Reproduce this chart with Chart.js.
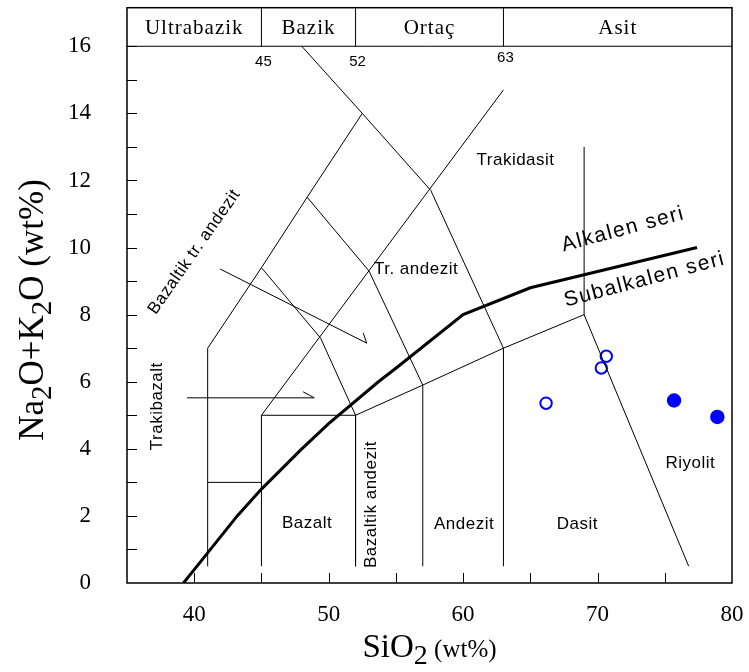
<!DOCTYPE html>
<html>
<head>
<meta charset="utf-8">
<script src="https://cdn.jsdelivr.net/npm/chart.js@4.4.1/dist/chart.umd.min.js"></script>
<style>
  body { margin: 0; background: #fff; }
</style>
</head>
<body>
<canvas id="tas" width="749" height="672"></canvas>
<script>
// Total alkali vs silica (TAS) diagram
const xTicks = [40, 50, 60, 70, 80];
const xMinor = [40, 45, 50, 55, 60, 65, 70, 75];
const yTicks = [0, 2, 4, 6, 8, 10, 12, 14, 16];
const yMinor = [1, 2, 3, 4, 5, 6, 7, 8, 9, 10, 11, 12, 13, 14, 15, 16];

// field boundaries, [SiO2, Na2O+K2O]
const fieldLines = [
  [[41, 0.5], [41, 7], [45, 9.4], [48.4, 11.5], [52.5, 14]],
  [[41, 3], [45, 3]],
  [[45, 0.5], [45, 5], [52, 5], [52, 0.5]],
  [[52, 5], [57, 5.9], [63, 7], [69, 8], [69, 13]],
  [[57, 0.5], [57, 5.9]],
  [[63, 0.5], [63, 7]],
  [[69, 8], [76.78, 0.5]],
  [[45, 5], [63, 14.7]],
  [[45, 9.4], [49.4, 7.3], [52, 5]],
  [[48.4, 11.5], [53, 9.3], [57, 5.9]],
  [[48, 16], [52.5, 14], [57.6, 11.7], [63, 7]],
];

// pointer arrows for the small fields
const arrowLines = [
  [[41.93, 9.36], [52.83, 7.15], [52.57, 7.45]],
  [[39.46, 5.52], [48.93, 5.52], [48.1, 5.7]],
];

// alkaline / subalkaline divide
const alkalineX = [39.2, 40, 43.2, 45, 48, 50, 53.7, 55, 60, 65, 77.4];
const alkalineY = [0, 0.4, 2, 2.8, 4, 4.75, 6, 6.4, 8, 8.8, 10];

// samples
const openX = [70.65, 70.28, 66.17];
const openY = [6.76, 6.41, 5.36];
const filledX = [75.69, 78.91];
const filledY = [5.44, 4.95];

// silica groups along the top
const groups = ["Ultrabazik", "Bazik", "Ortaç", "Asit"];
const groupLimits = [35, 45, 52, 63, 80];

// field names: text, SiO2, alkali, angle (deg)
const fieldNames = [
  ["Trakidasit", 63.9, 12.6, 0],
  ["Tr. andezit", 56.5, 9.36, 0],
  ["Bazaltik tr. andezit", 40.0, 9.87, -55],
  ["Trakibazalt", 37.25, 5.27, -90],
  ["Bazalt", 48.4, 1.77, 0],
  ["Bazaltik andezit", 53.2, 2.34, -90],
  ["Andezit", 60.07, 1.76, 0],
  ["Dasit", 68.5, 1.76, 0],
  ["Riyolit", 76.9, 3.58, 0],
];

const lineSet = (pts, width) => ({
  data: pts.map(p => ({ x: p[0], y: p[1] })),
  showLine: true,
  borderColor: "#000",
  borderWidth: width,
  pointRadius: 0,
  fill: false,
});

const datasets = [];
fieldLines.forEach(l => datasets.push(lineSet(l, 1)));
arrowLines.forEach(l => datasets.push(lineSet(l, 1)));
datasets.push(lineSet(alkalineX.map((v, i) => [v, alkalineY[i]]), 3));
datasets.push({
  data: openX.map((v, i) => ({ x: v, y: openY[i] })),
  pointRadius: 5.7,
  borderWidth: 2,
  borderColor: "#0000ff",
  backgroundColor: "rgba(0,0,0,0)",
});
datasets.push({
  data: filledX.map((v, i) => ({ x: v, y: filledY[i] })),
  pointRadius: 7.2,
  borderWidth: 0,
  backgroundColor: "#0000ff",
});

// text made of pieces, some of them lowered (subscripts)
function richText(ctx, parts, cx, cy) {
  let w = 0;
  parts.forEach(p => { ctx.font = p.size + "px 'Liberation Serif'"; w += ctx.measureText(p.t).width; });
  let x = cx - w / 2;
  ctx.textAlign = "left";
  ctx.textBaseline = "alphabetic";
  parts.forEach(p => {
    ctx.font = p.size + "px 'Liberation Serif'";
    ctx.fillText(p.t, x, cy + (p.dy || 0));
    x += ctx.measureText(p.t).width;
  });
}

function rotatedText(ctx, t, px, py, ang) {
  ctx.save();
  ctx.translate(px, py);
  ctx.rotate(ang * Math.PI / 180);
  ctx.fillText(t, 0, 0);
  ctx.restore();
}

const tasDecor = {
  id: "tasDecor",
  afterDatasetsDraw(chart) {
    const { ctx, chartArea: a, scales: { x, y } } = chart;
    ctx.save();
    ctx.strokeStyle = "#000";
    ctx.fillStyle = "#000";

    // inward ticks
    ctx.lineWidth = 1;
    ctx.beginPath();
    xMinor.forEach(v => {
      const px = Math.round(x.getPixelForValue(v)) + 0.5;
      ctx.moveTo(px, a.bottom);
      ctx.lineTo(px, a.bottom - 10);
    });
    yMinor.forEach(v => {
      const py = Math.round(y.getPixelForValue(v)) + 0.5;
      ctx.moveTo(a.left, py);
      ctx.lineTo(a.left + 10, py);
    });
    ctx.stroke();

    // silica group header
    const top16 = y.getPixelForValue(16);
    ctx.beginPath();
    ctx.moveTo(a.left, top16);
    ctx.lineTo(a.right, top16);
    groupLimits.slice(1, -1).forEach(v => {
      const px = x.getPixelForValue(v);
      ctx.moveTo(px, a.top);
      ctx.lineTo(px, top16);
    });
    ctx.stroke();
    ctx.font = "21px 'Liberation Serif'";
    ctx.letterSpacing = "1px";
    ctx.textAlign = "center";
    ctx.textBaseline = "middle";
    groups.forEach((g, i) => {
      const px = (x.getPixelForValue(groupLimits[i]) + x.getPixelForValue(groupLimits[i + 1])) / 2;
      ctx.fillText(g, px, (a.top + top16) / 2 + 1);
    });
    ctx.letterSpacing = "0px";
    ctx.font = "15px 'Liberation Sans'";
    groupLimits.slice(1, -1).forEach(v => {
      ctx.fillText(String(v), x.getPixelForValue(v) + 2, y.getPixelForValue(v === 63 ? 15.65 : 15.55));
    });

    // field names
    ctx.font = "17px 'Liberation Sans'";
    ctx.letterSpacing = "0.5px";
    fieldNames.forEach(([t, sx, sy, ang]) => {
      rotatedText(ctx, t, x.getPixelForValue(sx), y.getPixelForValue(sy), ang);
    });

    // series names along the divide
    ctx.font = "21px 'Liberation Sans'";
    ctx.letterSpacing = "1.5px";
    rotatedText(ctx, "Alkalen seri", x.getPixelForValue(71.9), y.getPixelForValue(10.54), -15);
    rotatedText(ctx, "Subalkalen seri", x.getPixelForValue(73.5), y.getPixelForValue(9.04), -15);
    ctx.letterSpacing = "0px";

    // frame
    ctx.lineWidth = 1.5;
    ctx.strokeRect(a.left, a.top, a.right - a.left, a.bottom - a.top);

    // axis titles
    richText(ctx, [
      { t: "SiO", size: 33 },
      { t: "2", size: 28, dy: 7 },
      { t: " (wt%)", size: 25 },
    ], (a.left + a.right) / 2, 657);

    ctx.save();
    ctx.translate(43, 310);
    ctx.rotate(-Math.PI / 2);
    richText(ctx, [
      { t: "Na", size: 35 },
      { t: "2", size: 29, dy: 8 },
      { t: "O+K", size: 35 },
      { t: "2", size: 29, dy: 8 },
      { t: "O (wt%)", size: 35 },
    ], 0, 0);
    ctx.restore();

    ctx.restore();
  },
};

new Chart("tas", {
  type: "scatter",
  data: { datasets },
  options: {
    responsive: false,
    animation: false,
    layout: { padding: { top: 5, right: 17, left: 0, bottom: 0 } },
    plugins: { legend: { display: false }, tooltip: { enabled: false } },
    scales: {
      x: {
        type: "linear",
        min: 35,
        max: 80,
        grid: { display: false },
        border: { display: false },
        afterBuildTicks: s => { s.ticks = xTicks.map(v => ({ value: v })); },
        afterFit: s => { s.height = 89; s.paddingLeft = 0; s.paddingRight = 0; },
        ticks: {
          autoSkip: false,
          maxRotation: 0,
          padding: 10,
          color: "#000",
          font: { family: "Liberation Serif", size: 23 },
        },
      },
      y: {
        type: "linear",
        min: 0,
        max: 17.15,
        grid: { display: false },
        border: { display: false },
        afterBuildTicks: s => { s.ticks = yTicks.map(v => ({ value: v })); },
        afterFit: s => { s.width = 127; s.paddingTop = 0; s.paddingBottom = 0; },
        ticks: {
          autoSkip: false,
          padding: 28,
          color: "#000",
          font: { family: "Liberation Serif", size: 23 },
        },
      },
    },
  },
  plugins: [tasDecor],
});
</script>
</body>
</html>
